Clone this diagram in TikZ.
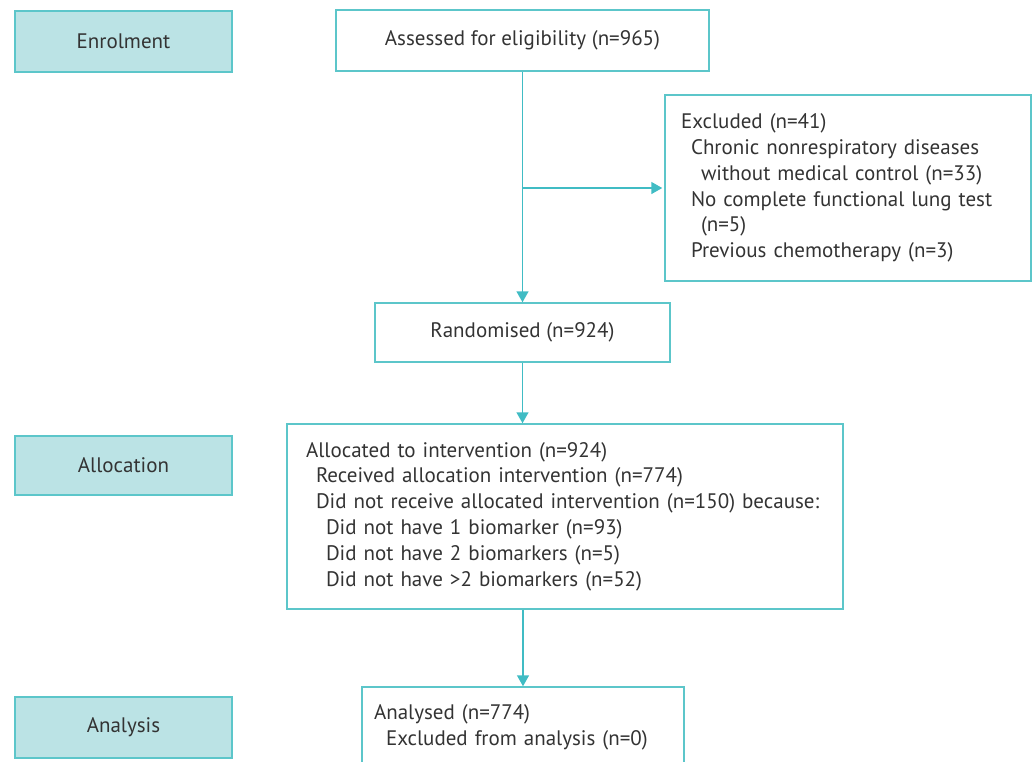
\documentclass[tikz,border=0pt]{standalone}
\usepackage{fontspec}
\setmainfont{PT Sans}
\usetikzlibrary{arrows.meta}
\definecolor{teal}{RGB}{92,198,202}
\definecolor{tealarrow}{RGB}{64,188,196}
\definecolor{tealfill}{RGB}{187,227,229}
\definecolor{txt}{RGB}{51,51,51}
\tikzset{
  stage/.style={draw=teal, fill=tealfill, line width=1.5pt, text=txt,
    minimum width=217pt, minimum height=61pt, inner sep=0pt, font=\fontsize{21}{25.8}\selectfont},
  flowbox/.style={draw=teal, line width=1.5pt, text=txt, inner sep=0pt,
    font=\fontsize{21}{25.8}\selectfont},
  listbox/.style={flowbox, align=left, inner ysep=0pt},
  arr/.style={draw=tealarrow, line width=1.5pt, -{Triangle[length=11pt,width=12pt]}},
  line/.style={draw=tealarrow, line width=1.5pt}
}
\newcommand{\ind}[1]{\hspace*{#1pt}}
\begin{document}
\begin{tikzpicture}[x=1pt,y=-1pt]
\useasboundingbox (0,0) rectangle (1033,761);
% stage labels
\node[stage] (enrol) at (123.5,41.5) {Enrolment};
\node[stage, minimum height=59pt] (allocl) at (123.5,465.5) {Allocation};
\node[stage] (analysl) at (123.5,727.5) {Analysis};
% flow boxes
\node[flowbox, minimum width=373pt, minimum height=61pt] (assess) at (522.5,40.5) {Assessed for eligibility (n=965)};
\node[flowbox, minimum width=295pt, minimum height=59pt] (rand) at (522.5,332.5) {Randomised (n=924)};
\node[listbox, minimum width=366pt, minimum height=186pt, text width=334pt, inner xsep=16pt] (excl) at (848,188) {%
Excluded (n=41)\\
\ind{10}Chronic nonrespiratory diseases\\
\ind{20}without medical control (n=33)\\
\ind{10}No complete functional lung test\\
\ind{20}(n=5)\\
\ind{10}Previous chemotherapy (n=3)};
\node[listbox, minimum width=556pt, minimum height=185pt, text width=518pt, inner xsep=19pt] (alloc) at (565,516.5) {%
Allocated to intervention (n=924)\\
\ind{10}Received allocation intervention (n=774)\\
\ind{10}Did not receive allocated intervention (n=150) because:\\
\ind{20}Did not have 1 biomarker (n=93)\\
\ind{20}Did not have 2 biomarkers (n=5)\\
\ind{20}Did not have >2 biomarkers (n=52)};
\node[listbox, minimum width=322pt, minimum height=80pt, text width=298pt, inner xsep=12pt] (anal) at (523,727) {%
Analysed (n=774)\\
\ind{12}Excluded from analysis (n=0)};
% connectors
\coordinate (br) at (rand.north |- excl.west);
\draw[arr] (assess.south -| rand.north) -- (rand.north);
\draw[arr, shorten >=2pt] (br) -- (excl.west);
\draw[arr] (rand.south) -- (rand.south |- alloc.north);
\draw[arr] (alloc.south -| anal.north) -- (anal.north);
\end{tikzpicture}
\end{document}
